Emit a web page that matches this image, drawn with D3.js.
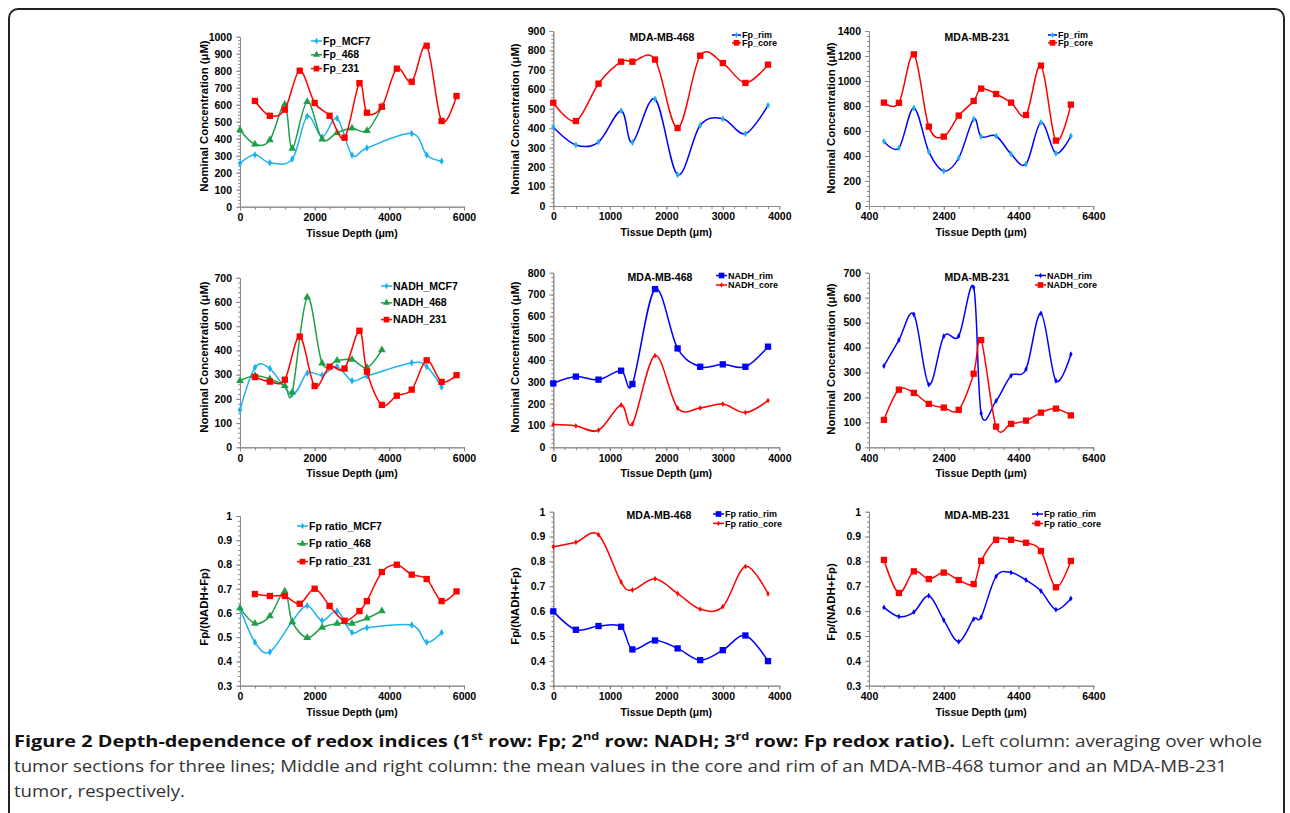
<!DOCTYPE html>
<html>
<head>
<meta charset="utf-8">
<script src="https://cdn.jsdelivr.net/npm/d3@7"></script>
<style>
  body { margin: 0; background: #fff; }
</style>
</head>
<body>
<svg id="fig" width="1290" height="813"></svg>
<script>
// Depth-dependence of redox indices, 3x3 grid of small excel-style line charts

// tissue depths (um) per series
const depthMCF7 = [0, 400, 800, 1400, 1800, 2200, 2600, 3000, 3400, 4600, 5000, 5400];
const depth468 = [0, 400, 800, 1200, 1400, 1800, 2200, 2600, 3000, 3400, 3800];
const depth231Whole = [400, 800, 1200, 1600, 2000, 2400, 2800, 3200, 3400, 3800, 4200, 4600, 5000, 5400, 5800];
const depth231 = [800, 1200, 1600, 2000, 2400, 2800, 3200, 3400, 3800, 4200, 4600, 5000, 5400, 5800];

// row 1: Fp
const fpMCF7 = [255, 305, 258, 280, 532, 410, 520, 304, 345, 431, 304, 268];
const fp468 = [451, 367, 392, 602, 343, 618, 396, 435, 461, 447, 588];
const fp231 = [622, 535, 571, 800, 610, 535, 406, 727, 553, 588, 812, 735, 947, 504, 651];
const fp468Rim = [405, 314, 329, 490, 327, 550, 161, 415, 449, 372, 518];
const fp468Core = [531, 437, 629, 742, 742, 753, 401, 773, 735, 633, 727];
const fp231Rim = [517, 464, 784, 435, 280, 384, 696, 555, 560, 416, 336, 669, 421, 560];
const fp231Core = [827, 825, 1213, 635, 555, 723, 840, 939, 896, 827, 728, 1123, 523, 811];

// row 2: NADH
const nadhMCF7 = [154, 329, 325, 220, 307, 298, 333, 275, 294, 349, 333, 249];
const nadh468 = [275, 295, 282, 254, 227, 619, 347, 358, 362, 329, 402];
const nadh231 = [290, 271, 279, 457, 253, 333, 325, 481, 312, 175, 213, 238, 359, 270, 298];
const nadh468Rim = [293, 324, 310, 351, 290, 725, 453, 369, 380, 369, 461];
const nadh468Core = [104, 98, 78, 194, 107, 420, 180, 180, 198, 159, 214];
const nadh231Rim = [326, 430, 533, 252, 445, 446, 641, 136, 186, 287, 313, 537, 267, 373];
const nadh231Core = [110, 231, 218, 174, 159, 150, 295, 430, 83, 94, 107, 139, 155, 128];

// row 3: Fp redox ratio
const ratioMCF7 = [0.618, 0.479, 0.439, 0.566, 0.630, 0.568, 0.608, 0.519, 0.539, 0.55, 0.479, 0.519];
const ratio468 = [0.62, 0.557, 0.587, 0.69, 0.563, 0.498, 0.54, 0.557, 0.557, 0.578, 0.608];
const ratio231 = [0.678, 0.67, 0.67, 0.638, 0.70, 0.629, 0.568, 0.608, 0.649, 0.769, 0.799, 0.758, 0.74, 0.649, 0.689];
const ratio468Rim = [0.599, 0.525, 0.54, 0.537, 0.446, 0.482, 0.45, 0.403, 0.443, 0.502, 0.399];
const ratio468Core = [0.859, 0.877, 0.907, 0.717, 0.685, 0.73, 0.671, 0.608, 0.618, 0.78, 0.67];
const ratio231Rim = [0.615, 0.578, 0.596, 0.662, 0.564, 0.477, 0.568, 0.576, 0.74, 0.755, 0.725, 0.681, 0.606, 0.651];
const ratio231Core = [0.806, 0.673, 0.76, 0.729, 0.755, 0.725, 0.709, 0.802, 0.887, 0.887, 0.875, 0.842, 0.696, 0.802];

// axis ticks
const xTicksLeft = [0, 2000, 4000, 6000];
const xTicksMid = [0, 1000, 2000, 3000, 4000];
const xTicksRight = [400, 2400, 4400, 6400];

const LIGHT = '#1cb2ee', BLUE = '#0000ff', RED = '#ff0000', GREEN = '#1f9f47';
const FONT = 'Liberation Sans, Arial, sans-serif';

const svg = d3.select('#fig');

// outer frame
svg.append('rect')
  .attr('x', 9).attr('y', 9).attr('width', 1275).attr('height', 840).attr('rx', 9)
  .attr('fill', 'none').attr('stroke', '#222').attr('stroke-width', 2);

const cols = [
  { left: 240, right: 464, xDomain: [0, 6000], xTicks: xTicksLeft, xMinor: 400, yTitleX: 204 },
  { left: 553.3, right: 779.3, xDomain: [0, 4000], xTicks: xTicksMid, xMinor: 200, yTitleX: 515 },
  { left: 869, right: 1093.3, xDomain: [400, 6400], xTicks: xTicksRight, xMinor: 400, yTitleX: 831 }
];

function sym(shape) {
  return { diamond: d3.symbolDiamond, triangle: d3.symbolTriangle, square: d3.symbolSquare }[shape];
}

const panels = [
  // row 1
  { col: 0, top: 36.7, bottom: 206.7, yDomain: [0, 1000], yStep: 100, yTitle: 'Nominal Concentration (\u03bcM)', yTitleY: 116,
    legend: { x: 311, y: 41, dy: 13.8, len: 11, fs: 10.5 },
    series: [
      { name: 'Fp_MCF7', x: depthMCF7, y: fpMCF7, line: LIGHT, shape: 'diamond', fill: LIGHT, size: 16 },
      { name: 'Fp_468', x: depth468, y: fp468, line: GREEN, shape: 'triangle', fill: GREEN, size: 26 },
      { name: 'Fp_231', x: depth231Whole, y: fp231, line: RED, shape: 'square', fill: RED, size: 40 }
    ] },
  { col: 1, top: 31, bottom: 206, yDomain: [0, 900], yStep: 100, yTitle: 'Nominal Concentration (\u03bcM)', yTitleY: 119,
    title: 'MDA-MB-468', titleX: 662, titleY: 37,
    legend: { x: 732, y: 35, dy: 7.8, len: 9, fs: 9 },
    series: [
      { name: 'Fp_rim', x: depth468, y: fp468Rim, line: BLUE, shape: 'diamond', fill: LIGHT, size: 14 },
      { name: 'Fp_core', x: depth468, y: fp468Core, line: RED, shape: 'square', fill: RED, size: 40 }
    ] },
  { col: 2, top: 31, bottom: 206, yDomain: [0, 1400], yStep: 200, yTitle: 'Nominal Concentration (\u03bcM)', yTitleY: 118,
    title: 'MDA-MB-231', titleX: 977, titleY: 37,
    legend: { x: 1048, y: 35, dy: 7.8, len: 9, fs: 9 },
    series: [
      { name: 'Fp_rim', x: depth231, y: fp231Rim, line: BLUE, shape: 'diamond', fill: LIGHT, size: 14 },
      { name: 'Fp_core', x: depth231, y: fp231Core, line: RED, shape: 'square', fill: RED, size: 40 }
    ] },
  // row 2
  { col: 0, top: 277.7, bottom: 447.3, yDomain: [0, 700], yStep: 100, yTitle: 'Nominal Concentration (\u03bcM)', yTitleY: 357,
    legend: { x: 381, y: 286, dy: 16.8, len: 11, fs: 10.5 },
    series: [
      { name: 'NADH_MCF7', x: depthMCF7, y: nadhMCF7, line: LIGHT, shape: 'diamond', fill: LIGHT, size: 16 },
      { name: 'NADH_468', x: depth468, y: nadh468, line: GREEN, shape: 'triangle', fill: GREEN, size: 26 },
      { name: 'NADH_231', x: depth231Whole, y: nadh231, line: RED, shape: 'square', fill: RED, size: 40 }
    ] },
  { col: 1, top: 272.7, bottom: 447.3, yDomain: [0, 800], yStep: 100, yTitle: 'Nominal Concentration (\u03bcM)', yTitleY: 357,
    title: 'MDA-MB-468', titleX: 660, titleY: 277,
    legend: { x: 716, y: 275.5, dy: 9.5, len: 11, fs: 9 },
    series: [
      { name: 'NADH_rim', x: depth468, y: nadh468Rim, line: BLUE, shape: 'square', fill: BLUE, size: 40 },
      { name: 'NADH_core', x: depth468, y: nadh468Core, line: RED, shape: 'diamond', fill: RED, size: 10 }
    ] },
  { col: 2, top: 272.7, bottom: 447.3, yDomain: [0, 700], yStep: 100, yTitle: 'Nominal Concentration (\u03bcM)', yTitleY: 359,
    title: 'MDA-MB-231', titleX: 977, titleY: 277,
    legend: { x: 1035, y: 275.5, dy: 9.5, len: 11, fs: 9 },
    series: [
      { name: 'NADH_rim', x: depth231, y: nadh231Rim, line: BLUE, shape: 'diamond', fill: BLUE, size: 10 },
      { name: 'NADH_core', x: depth231, y: nadh231Core, line: RED, shape: 'square', fill: RED, size: 40 }
    ] },
  // row 3
  { col: 0, top: 516, bottom: 685.7, yDomain: [0.3, 1], yStep: 0.1, yTitle: 'Fp/(NADH+Fp)', yTitleY: 607,
    legend: { x: 297, y: 526, dy: 17.8, len: 11, fs: 10.5 },
    series: [
      { name: 'Fp ratio_MCF7', x: depthMCF7, y: ratioMCF7, line: LIGHT, shape: 'diamond', fill: LIGHT, size: 16 },
      { name: 'Fp ratio_468', x: depth468, y: ratio468, line: GREEN, shape: 'triangle', fill: GREEN, size: 26 },
      { name: 'Fp ratio_231', x: depth231Whole, y: ratio231, line: RED, shape: 'square', fill: RED, size: 40 }
    ] },
  { col: 1, top: 511.7, bottom: 685.7, yDomain: [0.3, 1], yStep: 0.1, yTitle: 'Fp/(NADH+Fp)', yTitleY: 606,
    title: 'MDA-MB-468', titleX: 659, titleY: 515,
    legend: { x: 713, y: 514, dy: 9.4, len: 11, fs: 9 },
    series: [
      { name: 'Fp ratio_rim', x: depth468, y: ratio468Rim, line: BLUE, shape: 'square', fill: BLUE, size: 40 },
      { name: 'Fp ratio_core', x: depth468, y: ratio468Core, line: RED, shape: 'diamond', fill: RED, size: 10 }
    ] },
  { col: 2, top: 511.7, bottom: 685.7, yDomain: [0.3, 1], yStep: 0.1, yTitle: 'Fp/(NADH+Fp)', yTitleY: 602,
    title: 'MDA-MB-231', titleX: 977, titleY: 515,
    legend: { x: 1032, y: 514, dy: 9.4, len: 11, fs: 9 },
    series: [
      { name: 'Fp ratio_rim', x: depth231, y: ratio231Rim, line: BLUE, shape: 'diamond', fill: BLUE, size: 10 },
      { name: 'Fp ratio_core', x: depth231, y: ratio231Core, line: RED, shape: 'square', fill: RED, size: 40 }
    ] }
];

function styleAxis(a) {
  a.select('.domain').attr('stroke', '#8a8a8a');
  a.selectAll('line').attr('stroke', '#8a8a8a');
  a.selectAll('text').attr('font-family', FONT).attr('font-weight', 'bold')
    .attr('font-size', 10.5).attr('fill', '#000');
}

function drawPanel(p) {
  const c = cols[p.col];
  const g = svg.append('g');
  const x = d3.scaleLinear().domain(c.xDomain).range([c.left, c.right]);
  const y = d3.scaleLinear().domain(p.yDomain).range([p.bottom, p.top]);

  const xMinor = d3.range(c.xDomain[0], c.xDomain[1] + 1e-6, c.xMinor);
  const nY = Math.round((p.yDomain[1] - p.yDomain[0]) / p.yStep);
  const yTicks = d3.range(nY + 1).map(i => +(p.yDomain[0] + i * p.yStep).toFixed(3));
  const yMinor = d3.range(nY * 5 + 1).map(i => p.yDomain[0] + i * p.yStep / 5);
  const fmt = d => String(+d.toFixed(2));

  // minor ticks first, then major axes on top
  g.append('g').attr('transform', `translate(0,${p.bottom})`)
    .call(d3.axisBottom(x).tickValues(xMinor).tickSize(3).tickSizeOuter(0).tickFormat(''))
    .call(styleAxis);
  g.append('g').attr('transform', `translate(${c.left},0)`)
    .call(d3.axisLeft(y).tickValues(yMinor).tickSize(2).tickSizeOuter(0).tickFormat(''))
    .call(styleAxis);
  g.append('g').attr('transform', `translate(0,${p.bottom})`)
    .call(d3.axisBottom(x).tickValues(c.xTicks).tickSize(4).tickSizeOuter(0).tickPadding(3).tickFormat(fmt))
    .call(styleAxis);
  g.append('g').attr('transform', `translate(${c.left},0)`)
    .call(d3.axisLeft(y).tickValues(yTicks).tickSize(4).tickSizeOuter(0).tickPadding(4).tickFormat(fmt))
    .call(styleAxis);

  // axis titles
  g.append('text')
    .attr('x', (c.left + c.right) / 2).attr('y', p.bottom + 30)
    .attr('text-anchor', 'middle')
    .attr('font-family', FONT).attr('font-weight', 'bold').attr('font-size', 10.5)
    .text('Tissue Depth (\u03bcm)');
  g.append('text')
    .attr('transform', `translate(${c.yTitleX},${p.yTitleY}) rotate(-90)`)
    .attr('text-anchor', 'middle').attr('dy', '0.35em')
    .attr('font-family', FONT).attr('font-weight', 'bold').attr('font-size', 11.3)
    .text(p.yTitle);

  if (p.title) {
    g.append('text')
      .attr('x', p.titleX).attr('y', p.titleY).attr('dy', '0.35em')
      .attr('text-anchor', 'middle')
      .attr('font-family', FONT).attr('font-weight', 'bold').attr('font-size', 10.5)
      .text(p.title);
  }

  const line = d3.line()
    .x(d => x(d[0])).y(d => y(d[1]))
    .curve(d3.curveCardinal.tension(0));

  p.series.forEach(s => {
    const pts = s.x.map((v, i) => [v, s.y[i]]);
    g.append('path')
      .attr('d', line(pts))
      .attr('fill', 'none').attr('stroke', s.line).attr('stroke-width', 1.5);
    g.append('g').selectAll('path')
      .data(pts)
      .join('path')
      .attr('transform', d => `translate(${x(d[0])},${y(d[1])})`)
      .attr('d', d3.symbol().type(sym(s.shape)).size(s.size))
      .attr('fill', s.fill);
  });

  // legend
  const L = p.legend;
  p.series.forEach((s, i) => {
    const ly = L.y + i * L.dy;
    g.append('line')
      .attr('x1', L.x).attr('x2', L.x + L.len).attr('y1', ly).attr('y2', ly)
      .attr('stroke', s.line).attr('stroke-width', 1.5);
    g.append('path')
      .attr('transform', `translate(${L.x + L.len / 2},${ly})`)
      .attr('d', d3.symbol().type(sym(s.shape)).size(s.size * 0.8))
      .attr('fill', s.fill);
    g.append('text')
      .attr('x', L.x + L.len + 1).attr('y', ly).attr('dy', '0.35em')
      .attr('font-family', FONT).attr('font-weight', 'bold').attr('font-size', L.fs)
      .text(s.name);
  });
}

panels.forEach(drawPanel);

// caption, each run squeezed to the width it takes in the figure
const cap = svg.append('g').attr('font-family', 'Open Sans, sans-serif').attr('font-size', 16.5);

const bold = cap.append('text')
  .attr('x', 14).attr('y', 747).attr('font-weight', 'bold').attr('fill', '#111')
  .attr('textLength', 941).attr('lengthAdjust', 'spacingAndGlyphs');
[
  ['Figure 2 Depth-dependence of redox indices (1', null],
  ['st', 'super'],
  [' row: Fp; 2', null],
  ['nd', 'super'],
  [' row: NADH; 3', null],
  ['rd', 'super'],
  [' row: Fp redox ratio).', null]
].forEach(([t, shift]) => {
  const ts = bold.append('tspan').text(t);
  if (shift) ts.attr('baseline-shift', shift).attr('font-size', 10.5);
});
cap.append('text')
  .attr('x', 961).attr('y', 747).attr('fill', '#333')
  .attr('textLength', 301).attr('lengthAdjust', 'spacingAndGlyphs')
  .text('Left column: averaging over whole');
cap.append('text')
  .attr('x', 14).attr('y', 772).attr('fill', '#333')
  .attr('textLength', 1213).attr('lengthAdjust', 'spacingAndGlyphs')
  .text('tumor sections for three lines; Middle and right column: the mean values in the core and rim of an MDA-MB-468 tumor and an MDA-MB-231');
cap.append('text')
  .attr('x', 14).attr('y', 797).attr('fill', '#333')
  .attr('textLength', 171).attr('lengthAdjust', 'spacingAndGlyphs')
  .text('tumor, respectively.');
</script>
</body>
</html>
